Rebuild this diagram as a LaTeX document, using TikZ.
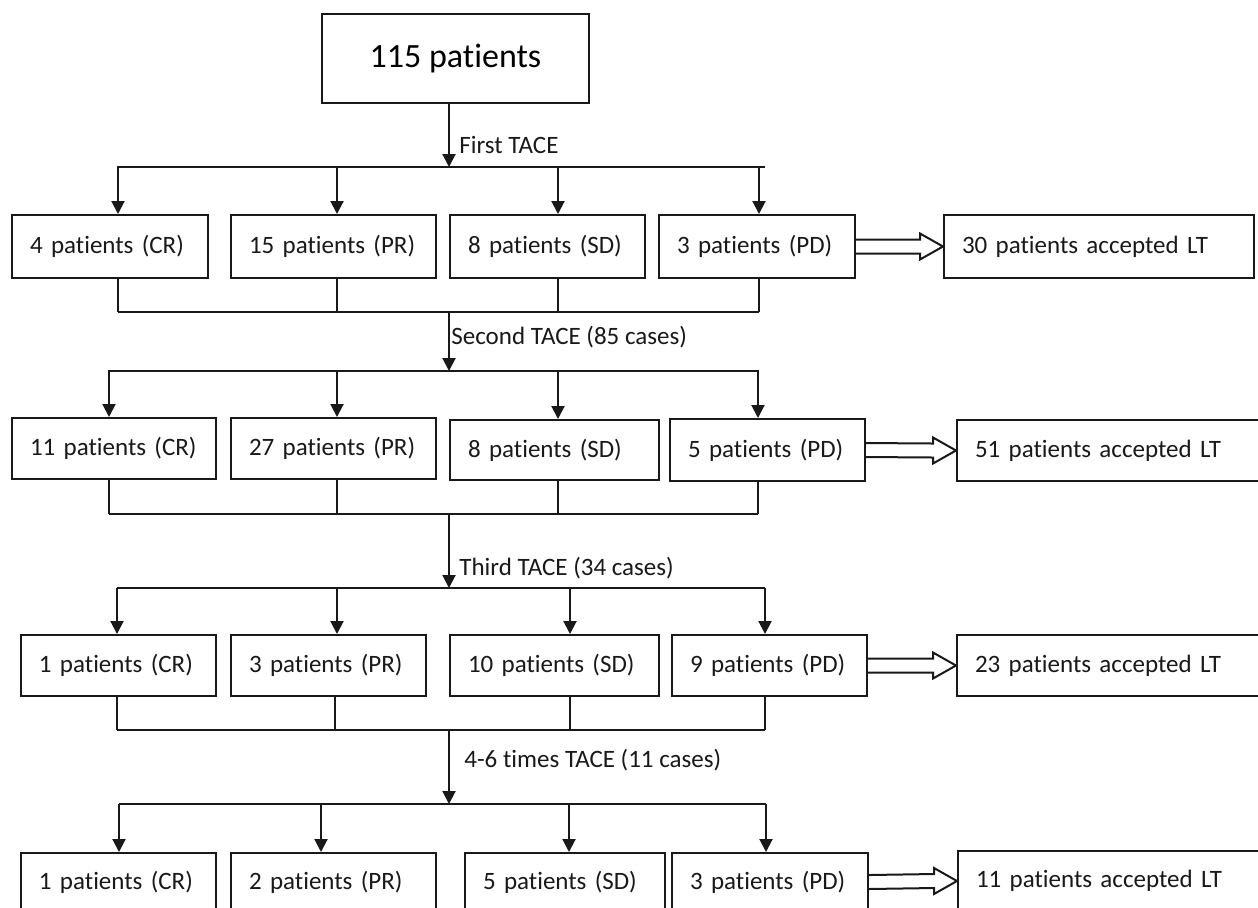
\documentclass[tikz,border=0pt]{standalone}
\usepackage{fontspec}
\setmainfont{Carlito}[Ligatures={NoCommon}]
\usetikzlibrary{arrows.meta,calc}
\tikzset{
  ln/.style={line width=1pt, draw=black!90},
  arr/.style={ln, -{Triangle[length=6.5pt,width=6.5pt]}},
  bx/.style={draw=black!90, line width=1pt, anchor=north west, inner xsep=9pt, inner ysep=0pt, align=left, font=\fontsize{12.5pt}{15pt}\selectfont, text=black!90},
  lbl/.style={anchor=west, inner sep=0pt, font=\fontsize{12.5pt}{15pt}\selectfont, text=black!90},
  hol/.style={line width=1pt, draw=black!90, line join=miter},
}
\newcommand\hollowarr[2]{%
  \draw[hol] ($(#1.east)+(0,-7)$) -- ($(#2.west)+(-23,-7)$) -- ($(#2.west)+(-23,-13)$) -- (#2.west)
    -- ($(#2.west)+(-23,13)$) -- ($(#2.west)+(-23,7)$) -- ($(#1.east)+(0,7)$);}
\begin{document}
\begin{tikzpicture}[x=0.5pt,y=-0.5pt]
\useasboundingbox (0,0) rectangle (1258,907);
\clip (0,0) rectangle (1258,907);
\fill[white] (0,0) rectangle (1258,907);
% top
\node[draw=black!90, line width=1pt, anchor=north west, minimum width=133.5pt, minimum height=44.5pt, inner sep=0pt, font=\fontsize{17pt}{20pt}\selectfont] (top) at (321,13) {115 patients};
% row 1
\node[bx, text width=80pt, minimum height=31.5pt] (a1) at (11,214) {\mbox{4 patients (CR)}};
\node[bx, text width=84.5pt, minimum height=31.5pt] (a2) at (230,214) {\mbox{15 patients (PR)}};
\node[bx, text width=79.5pt, minimum height=31.5pt] (a3) at (449,214) {\mbox{8 patients (SD)}};
\node[bx, text width=80pt, minimum height=31.5pt] (a4) at (658,214) {\mbox{3 patients (PD)}};
\node[bx, text width=137pt, minimum height=31.5pt] (al) at (943,214) {\mbox{30 patients accepted LT}};
% row 2
\node[bx, text width=84pt, minimum height=30.5pt] (b1) at (11,417) {\mbox{11 patients (CR)}};
\node[bx, text width=84.5pt, minimum height=30.5pt] (b2) at (230,417) {\mbox{27 patients (PR)}};
\node[bx, text width=86.5pt, minimum height=30pt] (b3) at (449,419) {\mbox{8 patients (SD)}};
\node[bx, text width=79.5pt, minimum height=31pt] (b4) at (669,418) {\mbox{5 patients (PD)}};
\node[bx, text width=137pt, minimum height=30.5pt] (bl) at (956,419) {\mbox{51 patients accepted LT}};
% row 3
\node[bx, text width=79.5pt, minimum height=30.5pt] (c1) at (20,634) {\mbox{1 patients (CR)}};
\node[bx, text width=79.5pt, minimum height=30.5pt] (c2) at (230,634) {\mbox{3 patients (PR)}};
\node[bx, text width=86.5pt, minimum height=30.5pt] (c3) at (449,634) {\mbox{10 patients (SD)}};
\node[bx, text width=79.5pt, minimum height=30.5pt] (c4) at (671,634) {\mbox{9 patients (PD)}};
\node[bx, text width=137pt, minimum height=30.5pt] (cl) at (956,634) {\mbox{23 patients accepted LT}};
% row 4
\node[bx, text width=79.5pt, minimum height=29pt] (d1) at (20,852) {\mbox{1 patients (CR)}};
\node[bx, text width=84.5pt, minimum height=29pt] (d2) at (230,852) {\mbox{2 patients (PR)}};
\node[bx, text width=82pt, minimum height=29pt] (d3) at (464,852) {\mbox{5 patients (SD)}};
\node[bx, text width=80pt, minimum height=29pt] (d4) at (671,852) {\mbox{3 patients (PD)}};
\node[bx, text width=137pt, minimum height=30pt] (dl) at (957,850) {\mbox{11 patients accepted LT}};
% labels
\node[lbl] (l1) at (459,145) {First TACE};
\node[lbl] (l2) at (451,337) {Second TACE (85 cases)};
\node[lbl] (l3) at (459,568) {Third TACE (34 cases)};
\node[lbl] (l4) at (464,760) {4-6 times TACE (11 cases)};
% level 1
\coordinate (s1) at (449,167);
\draw[arr] (top.south -| s1) -- (s1);
\coordinate (s1l) at (117,167); \coordinate (s1r) at (765,167);
\draw[ln] (s1l) -- (s1r);
\foreach \n/\x in {a1/118,a2/337,a3/558,a4/759}{
  \coordinate (t-\n) at (\x,167);
  \draw[arr] (t-\n) -- (t-\n |- \n.north);
  \coordinate (u-\n) at (\x,312);
  \draw[ln] (u-\n |- \n.south) -- (u-\n);
}
\draw[ln] (u-a1) -- (u-a4);
\coordinate (m1) at (449,312); \coordinate (s2) at (449,371);
\draw[arr] (m1) -- (s2);
% level 2
\coordinate (s2l) at (108,371); \coordinate (s2r) at (759,371);
\draw[ln] (s2l) -- (s2r);
\foreach \n/\x in {b1/109,b2/337,b3/558,b4/758}{
  \coordinate (t-\n) at (\x,371);
  \draw[arr] (t-\n) -- (t-\n |- \n.north);
  \coordinate (u-\n) at (\x,514);
  \draw[ln] (u-\n |- \n.south) -- (u-\n);
}
\draw[ln] (u-b1) -- (u-b4);
\coordinate (m2) at (449,514); \coordinate (s3) at (449,588);
\draw[arr] (m2) -- (s3);
% level 3
\coordinate (s3l) at (117,588); \coordinate (s3r) at (765,588);
\draw[ln] (s3l) -- (s3r);
\foreach \n/\x/\y in {c1/117/117,c2/337/335,c3/570/570,c4/765/765}{
  \coordinate (t-\n) at (\x,588);
  \draw[arr] (t-\n) -- (t-\n |- \n.north);
  \coordinate (u-\n) at (\y,730);
  \draw[ln] (u-\n |- \n.south) -- (u-\n);
}
\draw[ln] (u-c1) -- (u-c4);
\coordinate (m3) at (449,730); \coordinate (s4) at (449,804);
\draw[arr] (m3) -- (s4);
% level 4
\coordinate (s4l) at (119,804); \coordinate (s4r) at (766,804);
\draw[ln] (s4l) -- (s4r);
\foreach \n/\x in {d1/119,d2/321,d3/569,d4/766}{
  \coordinate (t-\n) at (\x,804);
  \draw[arr] (t-\n) -- (t-\n |- \n.north);
}
% hollow arrows
\hollowarr{a4}{al}
\hollowarr{b4}{bl}
\hollowarr{c4}{cl}
\hollowarr{d4}{dl}
\end{tikzpicture}
\end{document}
